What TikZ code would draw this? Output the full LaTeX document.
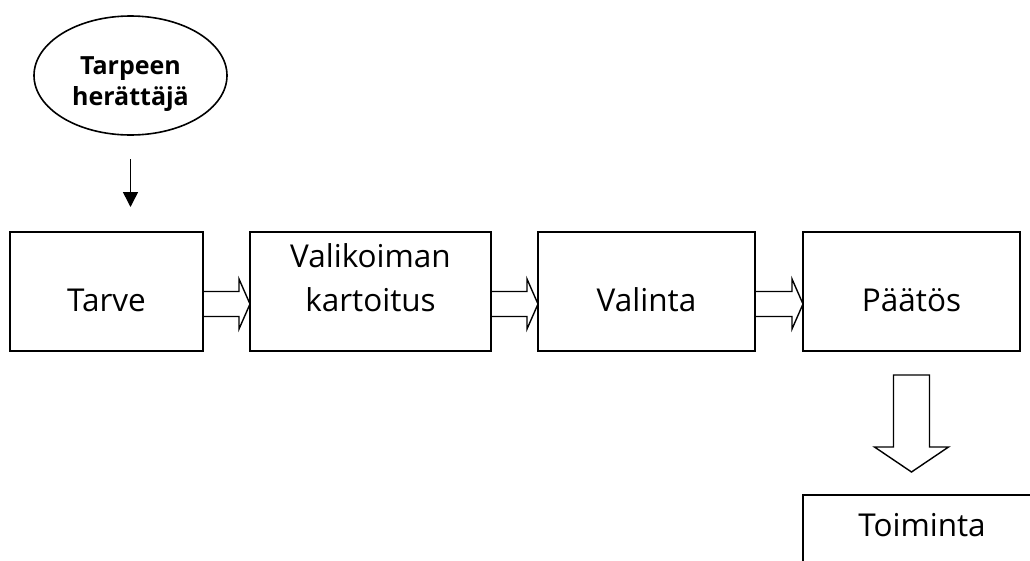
\documentclass[tikz,border=0pt]{standalone}
\usepackage{fontspec}
\setmainfont{Open Sans}
\usetikzlibrary{calc,shapes.geometric,arrows.meta}
\newcommand\strutup[1]{\rule{0pt}{#1}}
\newcommand\strutdown[1]{\rule[-#1]{0pt}{#1}}
\newcommand\hollowright[2]{%
  \draw[hollow] ($(#1.east)+(0,0)$) -- ($(#2.west)+(-11,0)$) -- ($(#2.west)+(-11,-12.5)$)
    -- ($(#2.west)+(0,12.5)$) -- ($(#2.west)+(-11,37.5)$) -- ($(#2.west)+(-11,25)$)
    -- ($(#1.east)+(0,25)$);}
\begin{document}
\begin{tikzpicture}[x=1pt,y=-1pt,
  box/.style={draw,line width=1.8pt,rectangle,minimum height=119pt,inner sep=2pt,outer sep=0pt,
    align=center,font=\fontsize{31.5}{44}\selectfont},
  trigger/.style={draw,ellipse,line width=1.6pt,minimum width=193pt,minimum height=119pt,
    inner sep=0pt,outer sep=0pt,align=center,font=\bfseries\fontsize{25}{31}\selectfont},
  hollow/.style={draw,line width=1.4pt,line join=miter},
  pointer/.style={draw,line width=1.5pt,-{Triangle[width=15pt,length=15pt]}}]
\useasboundingbox (0,0) rectangle (1030,560);
\clip (0,0) rectangle (1030,560);
\fill[white] (0,0) rectangle (1030,560);

\node[trigger] (trig) at (130.5,75.5) {\strutup{34pt}Tarpeen\\herättäjä};
\node[box,minimum width=193pt] (tarve) at (106.5,291.5) {\strutup{40pt}Tarve};
\node[box,minimum width=241pt] (valik) at (370.5,291.5) {Valikoiman\\kartoitus\strutdown{27pt}};
\node[box,minimum width=217pt] (valinta) at (646.5,291.5) {\strutup{40pt}Valinta};
\node[box,minimum width=217pt] (paatos) at (911.5,291.5) {\strutup{40pt}Päätös};
\node[box,minimum width=238pt,anchor=north west] (toim) at (803,495) {Toiminta\strutdown{59pt}};

\draw[pointer] ($(trig.south)+(0,24)$) -- ($(trig.south |- tarve.north)+(0,-25)$);

\hollowright{tarve}{valik}
\hollowright{valik}{valinta}
\hollowright{valinta}{paatos}

\draw[hollow] ($(paatos.south)+(-18,24)$) -- ($(paatos.south |- toim.north)+(-18,-48)$)
  -- ($(paatos.south |- toim.north)+(-37,-48)$) -- ($(paatos.south |- toim.north)+(0,-23)$)
  -- ($(paatos.south |- toim.north)+(37,-48)$) -- ($(paatos.south |- toim.north)+(18,-48)$)
  -- ($(paatos.south)+(18,24)$) -- cycle;
\end{tikzpicture}
\end{document}
